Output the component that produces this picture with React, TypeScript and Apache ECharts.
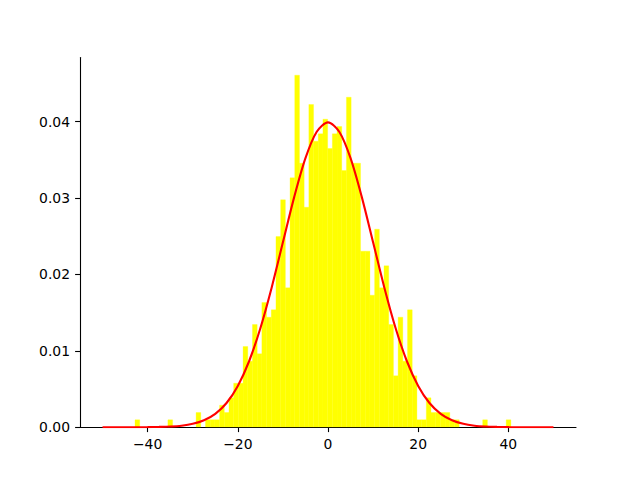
import React, { useEffect, useRef } from "react";
import * as echarts from "echarts";

// Histogram: 1000 samples, 80 bins starting at binStart with width binWidth
const sampleCount = 1000;
const binStart = -42.8;
const binWidth = 1.042;
const binCounts = [
  1, 0, 0, 0, 0, 0, 0, 1, 0, 0,
  0, 0, 0, 2, 0, 1, 1, 1, 3, 2,
  4, 6, 6, 11, 9, 14, 10, 17, 15, 16,
  26, 31, 19, 34, 48, 36, 30, 44, 39, 40,
  42, 38, 40, 41, 35, 45, 36, 36, 24, 24,
  18, 27, 19, 22, 14, 7, 15, 9, 16, 7,
  1, 1, 4, 2, 2, 2, 2, 1, 1, 0,
  0, 0, 0, 0, 1, 0, 0, 0, 0, 1,
];

// Red curve (x, density)
const curveX = [
  -50, -47.5, -45, -42.5, -40, -37.5, -35, -32.5, -30, -27.5, -25, -22.5, -20, -17.5, -15, -12.5, -10, -7.5, -5, -2.5,
  0, 2.5, 5, 7.5, 10, 12.5, 15, 17.5, 20, 22.5, 25, 27.5, 30, 32.5, 35, 37.5, 40, 42.5, 45, 47.5, 50,
];
const curveY = [
  0, 0, 0, 0, 0.00001, 0.00004, 0.00009, 0.0002, 0.00044, 0.00091, 0.00175, 0.00317, 0.0054, 0.00863, 0.01295, 0.01826, 0.0242, 0.03011, 0.03521, 0.03867,
  0.03989, 0.03867, 0.03521, 0.03011, 0.0242, 0.01826, 0.01295, 0.00863, 0.0054, 0.00317, 0.00175, 0.00091, 0.00044, 0.0002, 0.00009, 0.00004, 0.00001, 0, 0, 0, 0,
];

const xTicks = [-40, -20, 0, 20, 40];
const yTicks = [0, 0.01, 0.02, 0.03, 0.04];

export default function App() {
  const ref = useRef<HTMLDivElement>(null);
  useEffect(() => {
    if (!ref.current) return;
    const chart = echarts.init(ref.current, null, { renderer: "svg" });
    const bars = binCounts.map((c, i) => [
      binStart + i * binWidth,
      binStart + (i + 1) * binWidth,
      c / (sampleCount * binWidth),
    ]);
    const maxD = Math.max(...bars.map((b) => b[2]));
    const font = "DejaVu Sans";
    chart.setOption({
      animation: false,
      grid: { left: 80, right: 64, top: 57.6, bottom: 52.8, containLabel: false },
      xAxis: {
        type: "value",
        min: -55,
        max: 55,
        splitLine: { show: false },
        axisLine: { show: true, onZero: false, lineStyle: { color: "#000", width: 1.1 } },
        axisTick: { show: true, inside: false, length: 4.9, customValues: xTicks, lineStyle: { color: "#000", width: 1.1 } },
        axisLabel: {
          customValues: xTicks,
          margin: 10,
          color: "#000",
          fontFamily: font,
          fontSize: 13.9,
          formatter: (v: number) => String(Math.round(v)).replace("-", "\u2212"),
        },
      },
      yAxis: {
        type: "value",
        min: 0,
        max: maxD * 1.05,
        splitLine: { show: false },
        axisLine: { show: true, onZero: false, lineStyle: { color: "#000", width: 1.1 } },
        axisTick: { show: true, inside: false, length: 4.9, customValues: yTicks, lineStyle: { color: "#000", width: 1.1 } },
        axisLabel: {
          customValues: yTicks,
          margin: 10,
          color: "#000",
          fontFamily: font,
          fontSize: 13.9,
          formatter: (v: number) => v.toFixed(2),
        },
      },
      series: [
        {
          type: "custom",
          data: bars,
          encode: { x: [0, 1], y: 2 },
          clip: true,
          renderItem: (params: any, api: any) => {
            const x0 = api.value(0);
            const x1 = api.value(1);
            const h = api.value(2);
            if (h <= 0) return null;
            const p0 = api.coord([x0, h]);
            const p1 = api.coord([x1, 0]);
            return {
              type: "rect",
              shape: { x: p0[0], y: p0[1], width: p1[0] - p0[0], height: p1[1] - p0[1] },
              style: { fill: "#ffff00", stroke: "#ffff00", lineWidth: 0.3 },
            };
          },
          z: 1,
        },
        {
          type: "line",
          data: curveX.map((x, i) => [x, curveY[i]]),
          smooth: 0.3,
          showSymbol: false,
          symbol: "none",
          lineStyle: { color: "#ff0000", width: 2.1 },
          z: 2,
        },
      ],
    });
    return () => chart.dispose();
  }, []);
  return (
    <div
      ref={ref}
      style={{ position: "fixed", left: 0, top: 0, width: 640, height: 480, background: "#fff" }}
    />
  );
}
